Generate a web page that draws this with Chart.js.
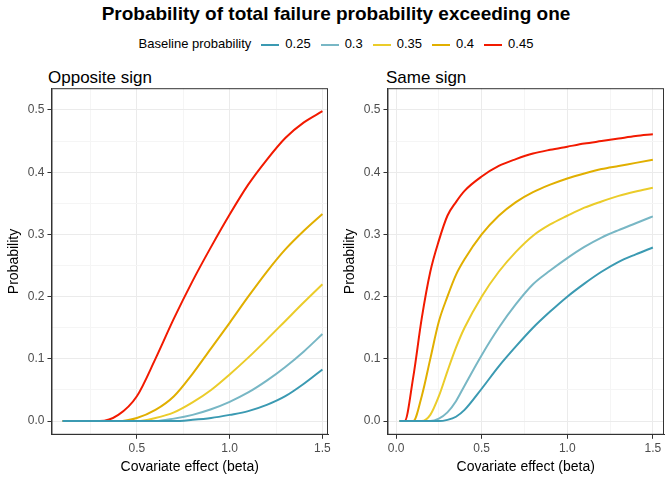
<!DOCTYPE html>
<html><head><meta charset="utf-8">
<script src="https://cdn.jsdelivr.net/npm/chart.js@4"></script>
<style>
body{margin:0;width:672px;height:480px;background:#fff;font-family:Arial,"Liberation Sans",sans-serif;position:relative;overflow:hidden}
#title{position:absolute;top:3px;left:0;width:672px;text-align:center;font-weight:bold;font-size:19px;color:#000}
#legend{position:absolute;top:36px;left:0;width:672px;text-align:center;font-size:13px;color:#000}
#legend span.item{margin-left:10px}
#legend i{display:inline-block;width:18px;height:2px;vertical-align:middle;margin-right:6px}
.sub{position:absolute;top:68px;font-size:17px;color:#000}
canvas{position:absolute}
</style></head><body>
<div id="title">Probability of total failure probability exceeding one</div>
<div id="legend"></div>
<div class="sub" style="left:48px">Opposite sign</div>
<div class="sub" style="left:386px">Same sign</div>
<div style="position:absolute;left:0;top:78px;width:336px;height:402px"><canvas id="c1"></canvas></div>
<div style="position:absolute;left:336px;top:78px;width:336px;height:402px"><canvas id="c2"></canvas></div>
<script>
const baselines=["0.25","0.3","0.35","0.4","0.45"];
const colors=["#3B9AB2","#78B7C5","#EBCC2A","#E1AF00","#F21A00"];
const oppX=[0.1,0.2,0.3,0.4,0.5,0.6,0.7,0.8,0.9,1.0,1.1,1.2,1.3,1.4,1.5];
const opp025=[0,0,0,0,0,0,0,0.002,0.005,0.01,0.016,0.026,0.04,0.06,0.083];
const opp030=[0,0,0,0,0,0,0.004,0.01,0.019,0.031,0.046,0.065,0.087,0.112,0.14];
const opp035=[0,0,0,0,0,0.005,0.014,0.03,0.05,0.075,0.102,0.131,0.161,0.191,0.22];
const opp040=[0,0,0,0,0.005,0.018,0.04,0.076,0.117,0.158,0.2,0.24,0.276,0.306,0.333];
const opp045=[0,0,0,0.01,0.04,0.1,0.165,0.225,0.28,0.332,0.38,0.42,0.455,0.48,0.498];
const samX=[0.02,0.05,0.1,0.15,0.2,0.25,0.3,0.35,0.4,0.5,0.6,0.7,0.8,0.9,1.0,1.1,1.2,1.3,1.4,1.5];
const sam025=[0,0,0,0,0,0,0.002,0.007,0.018,0.052,0.088,0.12,0.15,0.176,0.2,0.221,0.24,0.256,0.268,0.279];
const sam030=[0,0,0,0,0,0.004,0.014,0.032,0.057,0.106,0.15,0.188,0.22,0.242,0.262,0.28,0.295,0.307,0.318,0.329];
const sam035=[0,0,0,0,0.01,0.04,0.08,0.118,0.15,0.2,0.24,0.272,0.298,0.316,0.33,0.343,0.353,0.362,0.369,0.375];
const sam040=[0,0,0,0.04,0.1,0.16,0.2,0.235,0.26,0.3,0.33,0.352,0.368,0.38,0.39,0.398,0.405,0.41,0.415,0.42];
const sam045=[0,0,0.07,0.165,0.24,0.29,0.33,0.352,0.37,0.393,0.41,0.421,0.43,0.436,0.441,0.446,0.45,0.454,0.458,0.461];
const oppY=[opp025,opp030,opp035,opp040,opp045], samY=[sam025,sam030,sam035,sam040,sam045];
const yTicks=[0,0.1,0.2,0.3,0.4,0.5], xTicks=[0.5,1.0,1.5];

let lg='Baseline probability';
baselines.forEach((b,i)=>{lg+=`<span class="item"><i style="background:${colors[i]}"></i>${b}</span>`});
document.getElementById('legend').innerHTML=lg;

function make(id,xs,ys,xmin,xmax,xlabels){
  const ds=ys.map((arr,i)=>({label:baselines[i],data:xs.map((x,j)=>({x:x,y:arr[j]})),borderColor:colors[i],borderWidth:2,pointRadius:0,cubicInterpolationMode:'monotone',fill:false}));
  const lf={family:'Arial, Liberation Sans',size:12};
  new Chart(document.getElementById(id),{type:'line',data:{datasets:ds},
    options:{responsive:true,maintainAspectRatio:false,animation:false,
      layout:{padding:{top:10,right:8,left:2,bottom:0}},
      plugins:{legend:{display:false},tooltip:{enabled:false}},
      scales:{
        x:{type:'linear',min:xmin,max:xmax,
          afterBuildTicks:a=>{const t=[];for(let v=0;v<=1.5001;v+=0.25){if(v>=xmin&&v<=xmax)t.push({value:+v.toFixed(2)})}a.ticks=t;},
          ticks:{color:'#4d4d4d',font:lf,callback:v=>xlabels.includes(v)?v.toFixed(1):''},
          grid:{color:c=>(Math.abs(c.tick.value*2-Math.round(c.tick.value*2))<1e-6)?'#ebebeb':'#f5f5f5',tickColor:c=>(Math.abs(c.tick.value*2-Math.round(c.tick.value*2))<1e-6)?'#333':'rgba(0,0,0,0)',tickLength:4},
          border:{color:'#333',width:1},
          title:{display:true,text:'Covariate effect (beta)',color:'#000',font:{family:'Arial, Liberation Sans',size:14},padding:{top:0}}},
        y:{min:-0.022,max:0.535,
          afterBuildTicks:a=>{const t=[];for(let v=0;v<=0.5001;v+=0.05)t.push({value:+v.toFixed(2)});a.ticks=t;},
          ticks:{color:'#4d4d4d',font:lf,callback:v=>yTicks.some(t=>Math.abs(t-v)<1e-6)?v.toFixed(1):''},
          grid:{color:c=>yTicks.some(t=>Math.abs(t-c.tick.value)<1e-6)?'#ebebeb':'#f5f5f5',tickColor:c=>yTicks.some(t=>Math.abs(t-c.tick.value)<1e-6)?'#333':'rgba(0,0,0,0)',tickLength:4},
          border:{color:'#333',width:1},
          title:{display:true,text:'Probability',color:'#000',font:{family:'Arial, Liberation Sans',size:14},padding:{bottom:2}}}
      }},
    plugins:[{id:'frame',afterDraw(ch){const a=ch.chartArea,c=ch.ctx;c.save();c.strokeStyle='#333';c.lineWidth=1;c.strokeRect(a.left+0.5,a.top+0.5,a.right-a.left-1,a.bottom-a.top-1);c.restore();}}]
  });
}
make('c1',oppX,oppY,0.04,1.53,xTicks);
make('c2',samX,samY,-0.05,1.565,[0,0.5,1.0,1.5]);
</script></body></html>
